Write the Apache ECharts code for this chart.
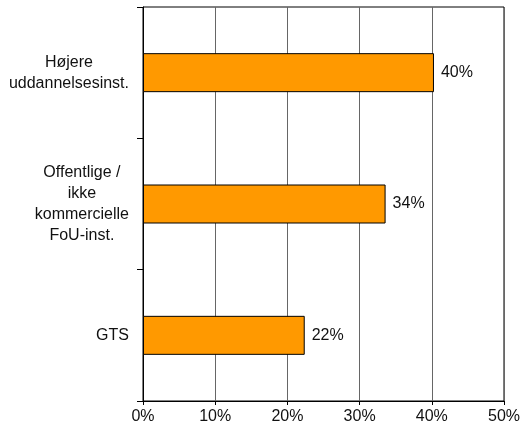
<!DOCTYPE html>
<html>
<head>
<meta charset="utf-8">
<script src="https://cdn.jsdelivr.net/npm/echarts@6/dist/echarts.min.js"></script>
<style>html,body{margin:0;padding:0;background:#fff;}#c{width:523px;height:431px;}</style>
</head>
<body>
<div id="c"></div>
<script>
const categories = ['Højere\nuddannelsesinst.', 'Offentlige /\nikke\nkommercielle\nFoU-inst.', 'GTS'];
const values = [40.3, 33.6, 22.4];
const xTicks = [0, 10, 20, 30, 40, 50];

const chart = echarts.init(document.getElementById('c'), null, {renderer: 'canvas'});
const font = 'Liberation Sans, Arial, sans-serif';
chart.setOption({
  animation: false,
  backgroundColor: '#fff',
  grid: {left: 143, right: 18, top: 7, bottom: 30, containLabel: false,
    show: true, borderColor: '#000', borderWidth: 1, backgroundColor: 'transparent'},
  xAxis: {
    type: 'value', min: xTicks[0], max: xTicks[xTicks.length - 1], interval: 10,
    axisLine: {show: true, lineStyle: {color: '#000', width: 1}},
    axisTick: {show: true, length: 4, lineStyle: {color: '#000'}},
    axisLabel: {formatter: v => v + '%', color: '#111', fontFamily: font, fontSize: 16, margin: 8},
    splitLine: {show: true, lineStyle: {color: '#666', width: 1}}
  },
  yAxis: {
    type: 'category', data: categories, inverse: true,
    axisLine: {show: true, onZero: false, lineStyle: {color: '#000', width: 1}},
    axisTick: {show: true, length: 6, inside: false, lineStyle: {color: '#000'}},
    axisLabel: {
      margin: 14, color: '#111', fontFamily: font, fontSize: 16, lineHeight: 21,
      formatter: v => v.split('\n').map(l => '{c|' + l + '}').join('\n'),
      rich: {c: {align: 'center', fontFamily: font, fontSize: 16, lineHeight: 21, color: '#111'}}
    },
    splitLine: {show: false}
  },
  series: [{
    type: 'bar', data: values, barWidth: 39,
    itemStyle: {color: '#FF9900', borderColor: '#000', borderWidth: 1},
    label: {show: true, position: 'right', distance: 7, formatter: p => Math.round(p.value) + '%',
      color: '#111', fontFamily: font, fontSize: 16}
  }]
});
</script>
</body>
</html>
